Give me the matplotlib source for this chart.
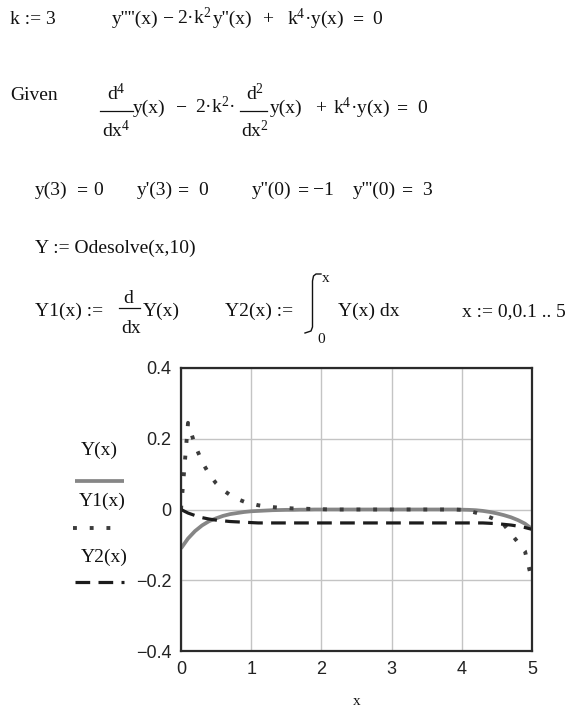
import numpy as np
import matplotlib
matplotlib.use('Agg')
import matplotlib.pyplot as plt

plt.rcParams['font.family'] = ['Liberation Serif', 'DejaVu Serif']
plt.rcParams['mathtext.fontset'] = 'custom'
plt.rcParams['mathtext.rm'] = 'Liberation Serif'
plt.rcParams['mathtext.it'] = 'Liberation Serif'
plt.rcParams['mathtext.bf'] = 'Liberation Serif:bold'

# x := 0, 0.1 .. 5  (the Mathcad range variable)
x_vals = np.round(np.arange(0, 5.05, 0.1), 1)

# Y(x) - solid grey trace
y_vals = ([-0.110, -0.082, -0.061, -0.045, -0.033, -0.025, -0.018, -0.013,
           -0.010, -0.007, -0.005, -0.004, -0.003, -0.002, -0.0015, -0.001,
           -0.001, -0.0005, -0.0005]
          + [0.0] * 21
          + [-0.0005, -0.001, -0.002, -0.004, -0.007, -0.011, -0.016,
             -0.022, -0.030, -0.040, -0.055])

# Y1(x) = dY/dx - dotted trace
y1_vals = ([0.000, 0.245, 0.182, 0.135, 0.100, 0.074, 0.055, 0.041, 0.030,
            0.022, 0.017, 0.012, 0.009, 0.007, 0.005, 0.004, 0.003, 0.002,
            0.002, 0.001, 0.001]
           + [0.0] * 19
           + [-0.001, -0.004, -0.009, -0.015, -0.022, -0.030, -0.043,
              -0.068, -0.093, -0.118, -0.200])

# Y2(x) = integral of Y - dashed trace
y2_vals = ([0.000, -0.010, -0.017, -0.023, -0.027, -0.030, -0.032, -0.034,
            -0.035, -0.036, -0.037]
           + [-0.038] * 33
           + [-0.039, -0.040, -0.042, -0.044, -0.047, -0.051, -0.056])

x_ticks = [0, 1, 2, 3, 4, 5]
y_ticks = [-0.4, -0.2, 0, 0.2, 0.4]
y_tick_labels = ['\u22120.4', '\u22120.2', '0', '0.2', '0.4']
legend_names = ['Y(x)', 'Y1(x)', 'Y2(x)']

W, H = 580, 708
fig = plt.figure(figsize=(W / 100, H / 100), dpi=100)

# styles for the three traces
sty_y = dict(color='#868686', lw=2.7, solid_capstyle='butt')
sty_y1 = dict(color='#3c3c3c', lw=2.8, linestyle=(0, (1, 3.3)), dash_capstyle='butt')
sty_y2 = dict(color='#1c1c1c', lw=2.3, linestyle=(0, (4.6, 2.6)), dash_capstyle='butt')

# ---- plot ----
ax = fig.add_axes([181 / W, 1 - 651 / H, 351 / W, 283 / H])
ax.plot(x_vals, y_vals, **sty_y)
ax.plot(x_vals, y1_vals, **sty_y1)
ax.plot(x_vals, y2_vals, **sty_y2)
ax.set_xlim(0, 5)
ax.set_ylim(-0.4, 0.4)
ax.set_xticks(x_ticks)
ax.set_yticks(y_ticks)
ax.set_yticklabels(y_tick_labels)
ax.grid(True, color='#c4c4c4', lw=1)
ax.tick_params(length=0, labelsize=13, pad=7)
for lab in ax.get_xticklabels() + ax.get_yticklabels():
    lab.set_family('Liberation Sans')
    lab.set_color('#222222')
for sp in ax.spines.values():
    sp.set_color('#2a2a2a')
    sp.set_linewidth(1.6)

# ---- worksheet text (pixel coordinates) ----
ov = fig.add_axes([0, 0, 1, 1])
ov.set_xlim(0, W)
ov.set_ylim(H, 0)
ov.axis('off')


def t(x, y, s, size=14, ha='left', **kw):
    ov.text(x, y, s, fontsize=size, ha=ha, va='baseline', color='#111111', **kw)


def row(y, pieces):
    # pieces: (x, text); a text of '=' is the bold Mathcad equals
    for x, s in pieces:
        if s == '=':
            t(x, y, s, fontweight='bold')
        else:
            t(x, y, s)


def bar(x0, x1, y):
    ov.plot([x0, x1], [y, y], color='#111111', lw=0.9)


# line 1
t(10, 24, 'k := 3')
row(24, [(112, "y''''(x)"), (163, '\u2212'), (177, '2\u00b7k$^{2}$'),
         (213, "y''(x)"), (262, '+'), (287, 'k$^{4}$\u00b7y(x)'),
         (353, '='), (372, '0')])

# line 2
t(10, 100, 'Given')
t(116, 100, 'd$^{4}$', ha='center')
bar(100, 133, 111)
t(116, 137, 'dx$^{4}$', ha='center')
t(255, 100, 'd$^{2}$', ha='center')
bar(240, 267, 111)
t(255, 137, 'dx$^{2}$', ha='center')
row(113, [(133, 'y(x)'), (176, '\u2212'), (195, '2\u00b7k$^{2}$\u00b7'),
          (270, 'y(x)'), (315, '+'), (333, 'k$^{4}$\u00b7y(x)'),
          (397, '='), (417, '0')])

# line 3
row(195, [(35, 'y(3)'), (77, '='), (93, '0'),
          (137, "y'(3)"), (178, '='), (198, '0'),
          (252, "y''(0)"), (298, '='), (313, '\u22121'),
          (353, "y'''(0)"), (402, '='), (422, '3')])

# line 4
t(35, 253, 'Y := Odesolve(x,10)')

# line 5
t(35, 316, 'Y1(x) :=')
t(128, 303, 'd', ha='center')
bar(119, 140, 308)
t(131, 333, 'dx', ha='center')
t(143, 316, 'Y(x)')
t(225, 316, 'Y2(x) :=')
# thin integral sign
ov.plot([321, 316, 313.5, 312.5, 312.5, 311, 305],
        [274, 274, 276, 281, 327, 331, 333], color='#111111', lw=1.0)
t(322, 282, 'x', size=11)
t(317, 343, '0', size=11)
t(338, 316, 'Y(x) dx')
t(462, 316, 'x := 0,0.1 .. 5')

# legend at left of the plot
t(99, 455, legend_names[0], ha='center')
ov.plot([75, 124], [481, 481], **sty_y)
t(102, 506, legend_names[1], ha='center')
ov.plot([73, 113], [528, 528], **sty_y1)
t(104, 562, legend_names[2], ha='center')
ov.plot([75, 124], [582, 582], **sty_y2)

# x axis label
t(356.5, 705, 'x', size=11, ha='center')

fig.savefig('out.png', dpi=100)
